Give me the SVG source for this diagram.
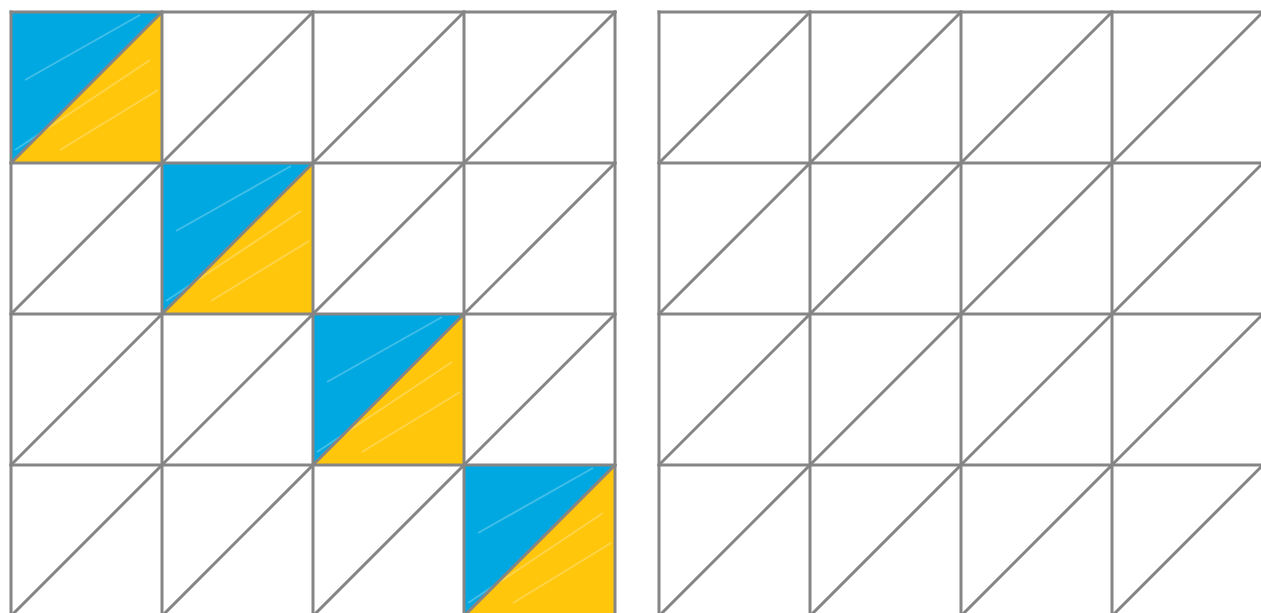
<svg xmlns="http://www.w3.org/2000/svg" width="1261" height="613" viewBox="0 0 1261 613">
<style>
.g{stroke:#858585;stroke-width:3;fill:none;stroke-linecap:square}
.b{fill:#00a8e1}
.y{fill:#ffc60b}
.s{stroke:#ffffff;stroke-width:2;opacity:0.25;fill:none}
</style>
<rect width="1261" height="613" fill="#ffffff"/>
<g id="fills">
<g id="cell-0"><polygon class="b" points="11,12 162,12 11,163"/><polygon class="y" points="162,12 162,163 11,163"/><path class="s" d="M25,80 L140,15 M15,150 L150,60 M60,150 L158,90"/></g>
<g id="cell-1"><polygon class="b" points="162,163 313,163 162,314"/><polygon class="y" points="313,163 313,314 162,314"/><path class="s" d="M176,231 L291,166 M166,301 L301,211 M211,301 L309,241"/></g>
<g id="cell-2"><polygon class="b" points="313,314 464,314 313,465"/><polygon class="y" points="464,314 464,465 313,465"/><path class="s" d="M327,382 L442,317 M317,452 L452,362 M362,452 L460,392"/></g>
<g id="cell-3"><polygon class="b" points="464,465 615,465 464,616"/><polygon class="y" points="615,465 615,616 464,616"/><path class="s" d="M478,533 L593,468 M468,603 L603,513 M513,603 L611,543"/></g>
</g>
<g id="connectors">
<g id="left-grid" class="g">
<path d="M11,12 H615 M11,163 H615 M11,314 H615 M11,465 H615 M11,616 H615"/>
<path d="M11,12 V616 M162,12 V616 M313,12 V616 M464,12 V616 M615,12 V616"/>
<path d="M11,163 L162,12 M162,163 L313,12 M313,163 L464,12 M464,163 L615,12"/>
<path d="M11,314 L162,163 M162,314 L313,163 M313,314 L464,163 M464,314 L615,163"/>
<path d="M11,465 L162,314 M162,465 L313,314 M313,465 L464,314 M464,465 L615,314"/>
<path d="M11,616 L162,465 M162,616 L313,465 M313,616 L464,465 M464,616 L615,465"/>
</g>
<g id="right-grid" class="g">
<path d="M659,12 H1263 M659,163 H1263 M659,314 H1263 M659,465 H1263 M659,616 H1263"/>
<path d="M659,12 V616 M810,12 V616 M961,12 V616 M1112,12 V616 M1263,12 V616"/>
<path d="M659,163 L810,12 M810,163 L961,12 M961,163 L1112,12 M1112,163 L1263,12"/>
<path d="M659,314 L810,163 M810,314 L961,163 M961,314 L1112,163 M1112,314 L1263,163"/>
<path d="M659,465 L810,314 M810,465 L961,314 M961,465 L1112,314 M1112,465 L1263,314"/>
<path d="M659,616 L810,465 M810,616 L961,465 M961,616 L1112,465 M1112,616 L1263,465"/>
</g>
</g>
</svg>
